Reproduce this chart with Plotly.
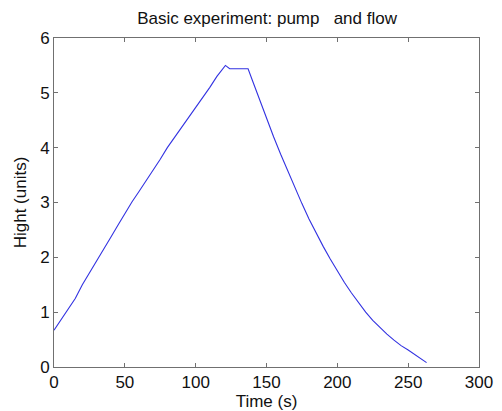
import plotly.graph_objects as go

# Time (s) and height (units)
time_s = [0, 5, 10, 15, 20, 25, 30, 35, 40, 45, 50, 55, 60, 65, 70, 75, 80, 85, 90,
          95, 100, 105, 110, 115, 120, 121, 124, 130, 137, 140, 145, 150, 155, 160,
          165, 170, 175, 180, 185, 190, 195, 200, 205, 210, 215, 220, 225, 230, 235,
          240, 245, 250, 255, 260, 263]
height_units = [0.67, 0.86, 1.07, 1.25, 1.50, 1.71, 1.93, 2.14, 2.36, 2.58, 2.80, 3.01,
                3.20, 3.39, 3.60, 3.79, 4.00, 4.18, 4.37, 4.55, 4.74, 4.92, 5.10, 5.30,
                5.47, 5.50, 5.44, 5.44, 5.44, 5.23, 4.88, 4.54, 4.20, 3.88, 3.57, 3.27,
                2.98, 2.70, 2.44, 2.20, 1.97, 1.75, 1.54, 1.35, 1.17, 1.00, 0.85, 0.72,
                0.60, 0.49, 0.39, 0.31, 0.22, 0.14, 0.08]

x_ticks = [0, 50, 100, 150, 200, 250, 300]
y_ticks = [0, 1, 2, 3, 4, 5, 6]

FONT = "Liberation Sans, Arial, sans-serif"

fig = go.Figure()
fig.add_trace(go.Scatter(x=time_s, y=height_units, mode="lines",
                         line=dict(color="rgb(50,50,225)", width=1.1),
                         showlegend=False))

axis_common = dict(showline=True, linecolor="#707070", linewidth=1, mirror="ticks",
                   ticks="inside", ticklen=4, tickcolor="#707070", showgrid=False,
                   zeroline=False, tickfont=dict(family=FONT, size=17, color="#111"))

fig.update_layout(
    width=502, height=411,
    margin=dict(l=54, r=23, t=38, b=44),
    paper_bgcolor="white", plot_bgcolor="white",
    title=dict(text="Basic experiment: pump &nbsp; and flow", x=0.532, xanchor="center",
               y=1 - 18 / 411, yanchor="middle", yref="container",
               font=dict(family=FONT, size=17, color="#111")),
    xaxis=dict(range=[0, 300], tickvals=x_ticks,
               title=dict(text="Time (s)", standoff=1,
                          font=dict(family=FONT, size=17, color="#111")),
               **axis_common),
    yaxis=dict(range=[0, 6], tickvals=y_ticks,
               title=dict(text="Hight (units)", standoff=9,
                          font=dict(family=FONT, size=17, color="#111")),
               **axis_common),
)
fig.update_xaxes(automargin=False)
fig.update_yaxes(automargin=False)

fig.write_html("out.html")
